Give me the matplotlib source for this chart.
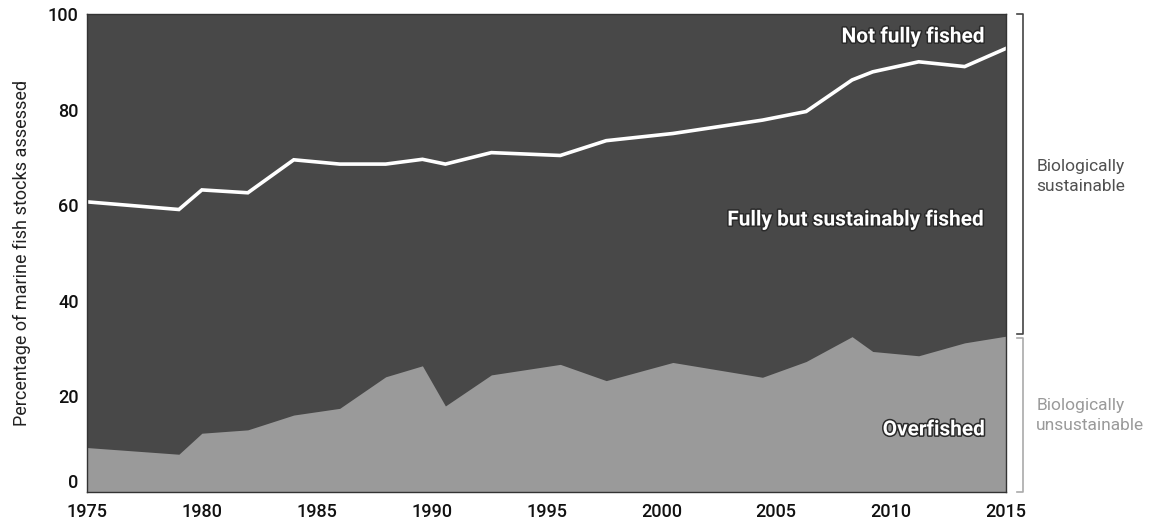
import matplotlib
matplotlib.use("Agg")
import matplotlib.pyplot as plt
import matplotlib.patheffects as pe
import matplotlib.transforms as mtransforms

# years as placed on the chart's own axis
years = [1975, 1979, 1980, 1982, 1984, 1986, 1988, 1989.6, 1990.6, 1992.6,
         1995.6, 1997.6, 2000.5, 2004.4, 2006.3, 2008.3, 2009.2, 2011.2,
         2013.2, 2015]
overfished = [9.3, 7.9, 12.3, 13.0, 16.1, 17.5, 24.1, 26.4, 18.0, 24.5,
              26.7, 23.3, 27.1, 24.0, 27.3, 32.5, 29.4, 28.5, 31.2, 32.6]
sustainable_top = [60.7, 59.1, 63.2, 62.6, 69.5, 68.6, 68.6, 69.6, 68.6, 71.0,
                   70.4, 73.5, 75.0, 77.8, 79.6, 86.2, 87.9, 90.0, 89.0, 92.8]
x_ticks = [1975, 1980, 1985, 1990, 1995, 2000, 2005, 2010, 2015]
y_ticks = [0, 20, 40, 60, 80, 100]

plt.rcParams["font.family"] = ["Roboto", "DejaVu Sans"]

DARK = "#484848"
LIGHT = "#9a9a9a"

fig = plt.figure(figsize=(11.51, 5.21), dpi=100)
ax = fig.add_axes([87 / 1151, 1 - 492 / 521, (1006 - 87) / 1151, (492 - 14) / 521])

ax.fill_between(years, 0, 100, color=DARK, lw=0)
ax.fill_between(years, 0, overfished, color=LIGHT, lw=0)
ax.plot(years, sustainable_top, color="white", lw=2.6, solid_joinstyle="miter")

ax.set_xlim(1975, 2015)
ax.set_ylim(0, 100)
ax.set_xticks(x_ticks)
ax.set_yticks(y_ticks)
ax.tick_params(length=0, labelsize=13, labelcolor="#111111")
ax.tick_params(axis="x", pad=8)
ax.tick_params(axis="y", pad=6)
for lab in ax.get_xticklabels() + ax.get_yticklabels():
    lab.set_fontweight("medium")
    if lab.get_text() == "0":
        lab.set_verticalalignment("bottom")
for s in ax.spines.values():
    s.set_color("#333333")
    s.set_linewidth(1)
ax.set_ylabel("Percentage of marine fish stocks assessed", fontsize=13,
              color="#222222", labelpad=12)

glow = [pe.withStroke(linewidth=2.2, foreground="#2a2a2a")]
lbl = dict(color="white", fontweight="bold", ha="right", va="center",
           fontsize=15, path_effects=glow)
ax.text(2014.1, 95.2, "Not fully fished", **lbl)
ax.text(2014.1, 56.9, "Fully but sustainably fished", **lbl)
ax.text(2014.1, 13.0, "Overfished", **lbl)

# brackets on the right
tr = mtransforms.blended_transform_factory(ax.transAxes, ax.transData)
bx = 1.018
split = overfished[-1]
ax.plot([bx - 0.006, bx, bx, bx - 0.006], [100, 100, split + 0.4, split + 0.4],
        transform=tr, color="#444444", lw=1.2, clip_on=False)
ax.plot([bx - 0.006, bx, bx, bx - 0.006], [split - 0.4, split - 0.4, 0, 0],
        transform=tr, color="#aaaaaa", lw=1.2, clip_on=False)
ax.text(1.033, 66, "Biologically\nsustainable", transform=tr, color="#505050",
        fontsize=12.5, va="center", ha="left", linespacing=1.4)
ax.text(1.033, 16, "Biologically\nunsustainable", transform=tr, color="#9a9a9a",
        fontsize=12.5, va="center", ha="left", linespacing=1.4)

fig.savefig("out.png", dpi=100)
